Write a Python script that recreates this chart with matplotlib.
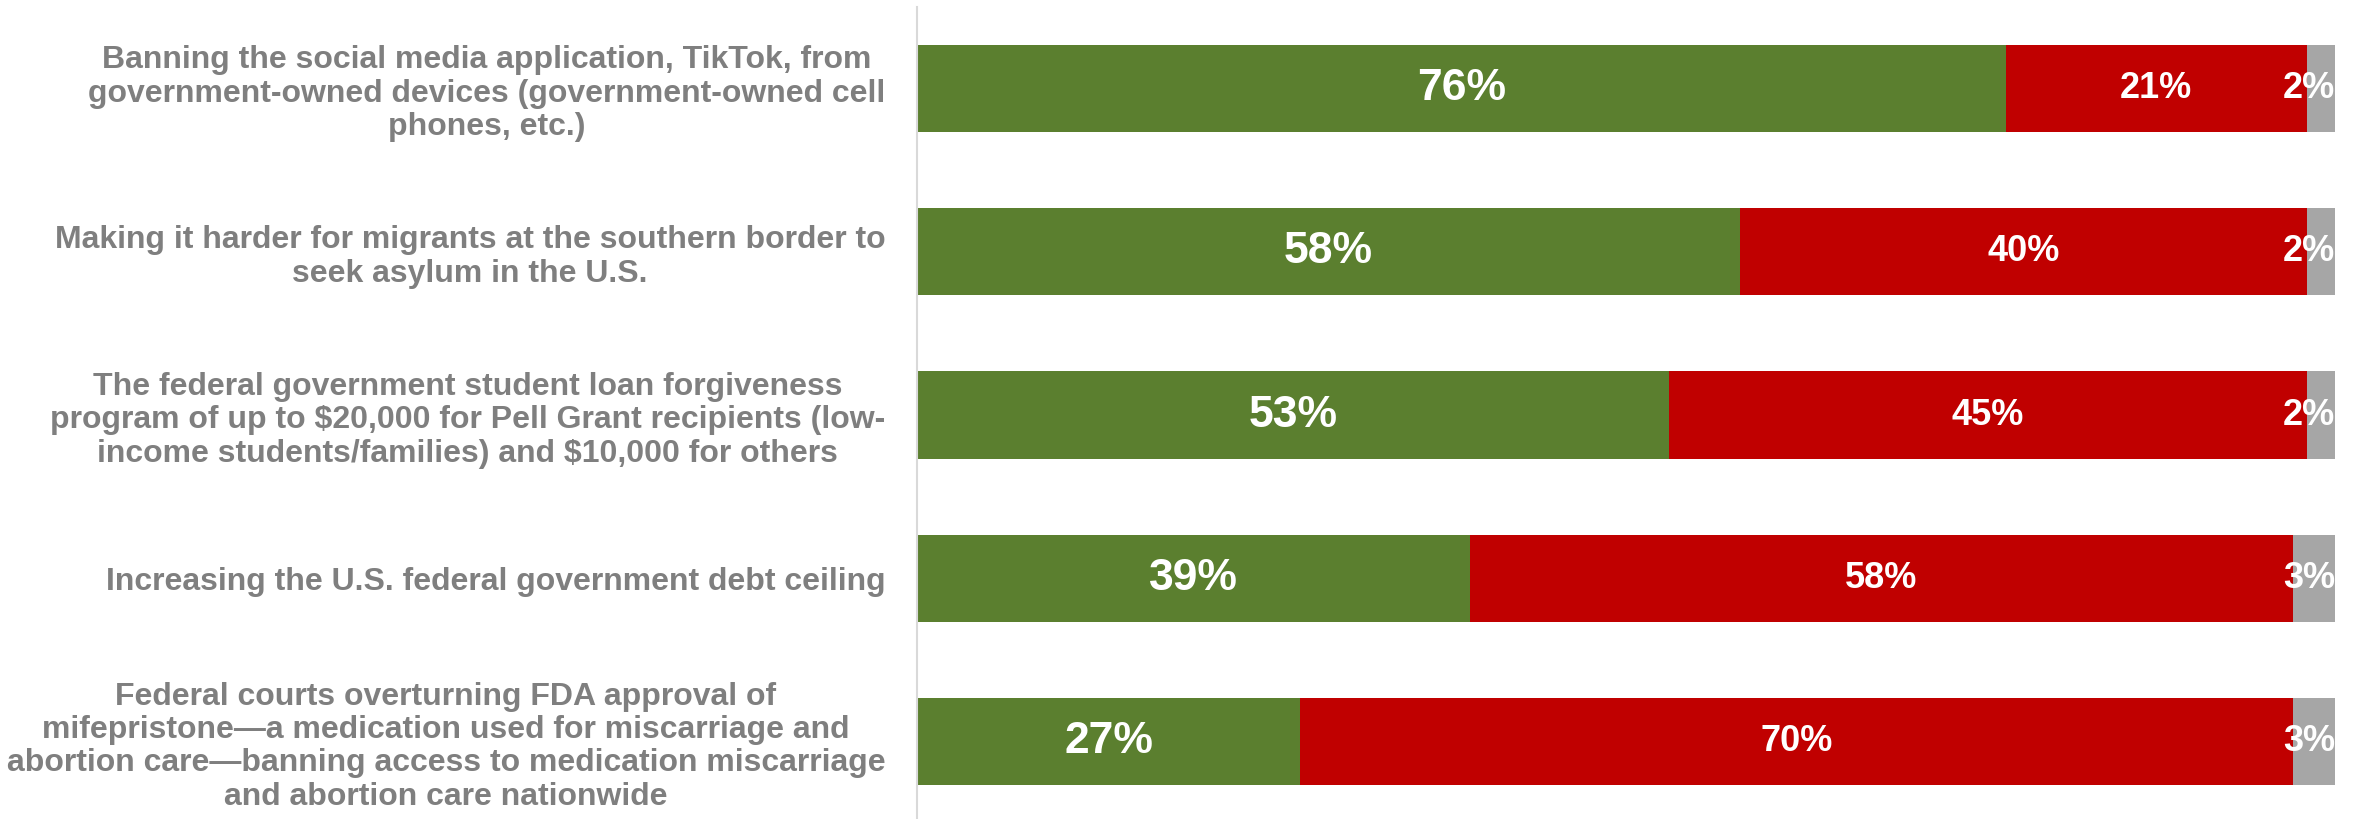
import matplotlib.pyplot as plt
import numpy as np

# ── Data ─────────────────────────────────────────────────────────────────────
items = [
    "Banning the social media application, TikTok, from\ngovernment-owned devices (government-owned cell\nphones, etc.)",
    "Making it harder for migrants at the southern border to\nseek asylum in the U.S.",
    "The federal government student loan forgiveness\nprogram of up to $20,000 for Pell Grant recipients (low-\nincome students/families) and $10,000 for others",
    "Increasing the U.S. federal government debt ceiling",
    "Federal courts overturning FDA approval of\nmifepristone\u2014a medication used for miscarriage and\nabortion care\u2014banning access to medication miscarriage\nand abortion care nationwide",
]
support = [76, 58, 53, 39, 27]
oppose = [21, 40, 45, 58, 70]
unsure = [2, 2, 2, 3, 3]

GREEN = "#5b7f2f"
RED = "#c00000"
GRAY = "#a6a6a6"
LABEL_GRAY = "#7f7f7f"

plt.rcParams["font.family"] = ["Liberation Sans", "DejaVu Sans"]
plt.rcParams["font.weight"] = "bold"

fig = plt.figure(figsize=(23.54, 8.19), dpi=100)
ax = fig.add_axes([0.3896, -0.005, 0.6024, 0.9965])

# 100% stacked: normalise each row
sup = np.array(support, dtype=float)
opp = np.array(oppose, dtype=float)
uns = np.array(unsure, dtype=float)
tot = sup + opp + uns
sup_n, opp_n, uns_n = sup / tot * 100, opp / tot * 100, uns / tot * 100

y = np.arange(len(items))
h = 0.535
ax.barh(y, sup_n, height=h, color=GREEN, zorder=2)
ax.barh(y, opp_n, left=sup_n, height=h, color=RED, zorder=2)
ax.barh(y, uns_n, left=sup_n + opp_n, height=h, color=GRAY, zorder=2)

for i in range(len(items)):
    ax.text(sup_n[i] / 2, y[i], f"{support[i]}%", ha="center", va="center",
            color="white", fontsize=32, fontweight="bold", zorder=3)
    ax.text(sup_n[i] + opp_n[i] / 2, y[i], f"{oppose[i]}%", ha="center", va="center",
            color="white", fontsize=26, fontweight="bold", zorder=3)
    ax.text(100, y[i], f"{unsure[i]}%", ha="right", va="center",
            color="white", fontsize=26, fontweight="bold", zorder=3)

ax.set_xlim(0, 100)
ax.set_ylim(4.5, -0.5)
ax.set_yticks(y)
ax.set_yticklabels(items, fontsize=23, color=LABEL_GRAY, fontweight="bold",
                   multialignment="center", linespacing=1.15)
ax.tick_params(axis="y", length=0, pad=23)
ax.set_xticks([])

for side in ("top", "right", "bottom"):
    ax.spines[side].set_visible(False)
ax.spines["left"].set_color("#d9d9d9")
ax.spines["left"].set_linewidth(1.5)

fig.savefig("out.png", dpi=100)
